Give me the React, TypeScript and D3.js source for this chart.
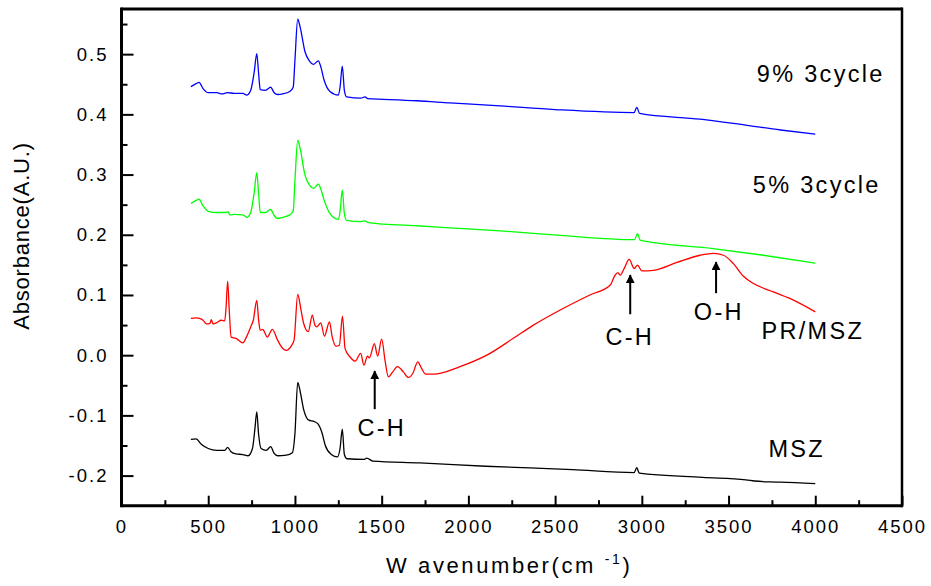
import React, { useEffect, useRef } from "react";
import * as d3 from "d3";

// [wavenumber (cm-1), absorbance]
const mszData: [number, number][] = [
  [400, -0.14], [430, -0.139], [460, -0.148], [500, -0.155], [550, -0.158], [595, -0.158],
  [612, -0.153], [630, -0.16], [660, -0.164], [700, -0.165], [730, -0.167], [755, -0.155],
  [770, -0.12], [780, -0.094], [790, -0.13], [805, -0.155], [835, -0.158], [860, -0.152],
  [880, -0.163], [900, -0.167], [950, -0.166], [985, -0.162], [1000, -0.13], [1016, -0.045],
  [1030, -0.06], [1050, -0.09], [1080, -0.108], [1110, -0.11], [1135, -0.115], [1155, -0.128],
  [1175, -0.15], [1210, -0.165], [1245, -0.169], [1260, -0.155], [1273, -0.123], [1285, -0.165],
  [1300, -0.172], [1400, -0.173], [1414, -0.171], [1450, -0.176], [1720, -0.179], [2100, -0.1845],
  [2600, -0.19], [2955, -0.195], [2971, -0.187], [2985, -0.196], [3350, -0.203], [3600, -0.207],
  [3650, -0.209], [3740, -0.2105], [3800, -0.211], [4000, -0.2135],
];

const prMszData: [number, number][] = [
  [400, 0.061], [430, 0.062], [450, 0.061], [470, 0.058], [490, 0.052], [510, 0.053],
  [518, 0.059], [528, 0.052], [550, 0.054], [575, 0.058], [595, 0.057], [603, 0.08],
  [612, 0.123], [622, 0.07], [632, 0.03], [660, 0.028], [700, 0.0205], [720, 0.03],
  [745, 0.047], [760, 0.058], [780, 0.091], [790, 0.06], [800, 0.0415], [815, 0.043],
  [825, 0.038], [840, 0.03], [870, 0.043], [900, 0.025], [930, 0.011], [950, 0.008],
  [980, 0.016], [995, 0.025], [1016, 0.1008], [1035, 0.075], [1050, 0.053], [1077, 0.039],
  [1100, 0.0665], [1115, 0.05], [1126, 0.047], [1149, 0.0537], [1170, 0.0316], [1199, 0.0554],
  [1215, 0.03], [1237, 0.015], [1256, 0.0166], [1274, 0.0648], [1289, 0.011], [1318, -0.003],
  [1347, -0.01], [1379, 0.003], [1398, -0.0166], [1418, -0.0017], [1429, -0.0044], [1458, 0.019],
  [1477, -0.0017], [1500, 0.0266], [1520, -0.01], [1539, -0.036], [1564, -0.0277], [1591, -0.019],
  [1625, -0.0277], [1654, -0.037], [1680, -0.03], [1708, -0.011], [1730, -0.022], [1754, -0.0316],
  [1798, -0.0316], [1952, -0.019], [2106, 0.0], [2259, 0.028], [2375, 0.05], [2529, 0.075],
  [2700, 0.1], [2817, 0.116], [2846, 0.133], [2862, 0.137], [2875, 0.133], [2900, 0.145],
  [2927, 0.159], [2956, 0.144], [2975, 0.1496], [3000, 0.14], [3067, 0.141], [3202, 0.154],
  [3336, 0.166], [3413, 0.169], [3471, 0.166], [3528, 0.152], [3586, 0.131], [3644, 0.119],
  [3759, 0.105], [3877, 0.091], [4000, 0.072],
];

const cycle5Data: [number, number][] = [
  [400, 0.252], [430, 0.257], [447, 0.259], [470, 0.248], [500, 0.239], [550, 0.237],
  [600, 0.237], [615, 0.238], [625, 0.233], [650, 0.234], [700, 0.233], [722, 0.229],
  [745, 0.237], [765, 0.27], [780, 0.303], [790, 0.27], [800, 0.237], [830, 0.237],
  [860, 0.242], [880, 0.232], [900, 0.227], [930, 0.229], [970, 0.233], [990, 0.24],
  [1000, 0.29], [1016, 0.357], [1030, 0.343], [1058, 0.299], [1085, 0.282], [1106, 0.277],
  [1135, 0.284], [1150, 0.275], [1168, 0.258], [1202, 0.235], [1250, 0.2255], [1260, 0.238],
  [1273, 0.274], [1285, 0.235], [1298, 0.224], [1380, 0.222], [1404, 0.223], [1420, 0.2205],
  [1510, 0.2177], [1702, 0.215], [1894, 0.2116], [2183, 0.2066], [2530, 0.199], [2958, 0.192],
  [2975, 0.202], [2990, 0.191], [3411, 0.177], [3700, 0.166], [4000, 0.153],
];

const cycle9Data: [number, number][] = [
  [400, 0.446], [430, 0.451], [447, 0.453], [470, 0.443], [500, 0.436], [550, 0.436],
  [580, 0.434], [610, 0.436], [650, 0.435], [700, 0.435], [722, 0.432], [745, 0.44],
  [765, 0.47], [780, 0.501], [790, 0.47], [800, 0.441], [830, 0.44], [860, 0.445],
  [880, 0.436], [900, 0.433], [930, 0.434], [970, 0.438], [990, 0.445], [1000, 0.49],
  [1016, 0.558], [1030, 0.545], [1058, 0.504], [1085, 0.488], [1106, 0.483], [1135, 0.489],
  [1150, 0.478], [1168, 0.457], [1202, 0.438], [1250, 0.432], [1260, 0.445], [1273, 0.48],
  [1285, 0.44], [1298, 0.429], [1380, 0.427], [1404, 0.429], [1420, 0.426], [1510, 0.425],
  [1702, 0.4226], [1894, 0.419], [2183, 0.414], [2500, 0.408], [2955, 0.403], [2971, 0.4117],
  [2987, 0.4017], [3336, 0.392], [3528, 0.385], [3800, 0.374], [4000, 0.367],
];

const seriesColors = ["#000000", "#ff0000", "#00ff00", "#0000ff"];

// label text, x (cm-1) of left edge, y (absorbance) of baseline
const labelTexts = ["9% 3cycle", "5% 3cycle", "PR/MSZ", "MSZ", "C-H", "C-H", "O-H"];
const labelX = [3663, 3640, 3690, 3730, 1360, 2790, 3300];
const labelY = [0.4542, 0.2692, 0.0263, -0.1693, -0.1346, 0.0166, 0.0582];

// arrows: x (cm-1), from y, to y (absorbance)
const arrowX = [1460, 2933, 3428];
const arrowFrom = [-0.0897, 0.068, 0.103];
const arrowTo = [-0.0266, 0.133, 0.1546];

const xTicks = d3.range(0, 4501, 500);
const yTicks = [-0.2, -0.1, 0.0, 0.1, 0.2, 0.3, 0.4, 0.5];

export default function App() {
  const ref = useRef<SVGSVGElement>(null);

  useEffect(() => {
    const width = 931;
    const height = 586;
    const font = "'Liberation Sans', Arial, sans-serif";
    const svg = d3.select(ref.current);
    svg.selectAll("*").remove();

    const x = d3.scaleLinear().domain([0, 4500]).range([121.5, 902]);
    const y = d3.scaleLinear().domain([-0.25, 0.575]).range([505.7, 9]);

    // minor ticks
    svg
      .append("g")
      .attr("transform", `translate(0,${y(-0.25)})`)
      .call(d3.axisBottom(x).tickValues(d3.range(250, 4500, 500)).tickSize(-5.5).tickFormat(() => ""))
      .call(g => g.select(".domain").remove())
      .selectAll("line")
      .attr("stroke-width", 2);
    svg
      .append("g")
      .attr("transform", `translate(${x(0)},0)`)
      .call(d3.axisLeft(y).tickValues(d3.range(-0.15, 0.56, 0.1)).tickSize(-6).tickFormat(() => ""))
      .call(g => g.select(".domain").remove())
      .selectAll("line")
      .attr("stroke-width", 2);

    // major ticks
    const xAxis = svg
      .append("g")
      .attr("transform", `translate(0,${y(-0.25)})`)
      .call(d3.axisBottom(x).tickValues(xTicks).tickSize(-10).tickPadding(14).tickFormat(d => String(d)));
    xAxis.select(".domain").remove();
    xAxis.selectAll("line").attr("stroke-width", 2);
    xAxis
      .selectAll("text")
      .attr("font-family", font)
      .attr("font-size", 18.5)
      .attr("letter-spacing", 2)
      .attr("fill", "#000");

    const yAxis = svg
      .append("g")
      .attr("transform", `translate(${x(0)},0)`)
      .call(d3.axisLeft(y).tickValues(yTicks).tickSize(-12).tickPadding(13).tickFormat(d => (+d).toFixed(1)));
    yAxis.select(".domain").remove();
    yAxis.selectAll("line").attr("stroke-width", 2);
    yAxis
      .selectAll("text")
      .attr("font-family", font)
      .attr("font-size", 18.5)
      .attr("letter-spacing", 2)
      .attr("fill", "#000");

    // frame
    const frame = svg.append("g").attr("stroke", "#000").attr("fill", "none");
    frame.append("line").attr("x1", x(0)).attr("x2", x(0)).attr("y1", y(0.575) - 1.5).attr("y2", y(-0.25) + 1.5).attr("stroke-width", 3);
    frame.append("line").attr("x1", x(0)).attr("x2", x(4500)).attr("y1", y(-0.25)).attr("y2", y(-0.25)).attr("stroke-width", 3);
    frame.append("line").attr("x1", x(0)).attr("x2", x(4500)).attr("y1", y(0.575)).attr("y2", y(0.575)).attr("stroke-width", 3);
    frame.append("line").attr("x1", x(4500)).attr("x2", x(4500)).attr("y1", y(0.575) - 1.5).attr("y2", y(-0.25) + 1.5).attr("stroke-width", 2.5);

    // spectra
    const line = d3
      .line<[number, number]>()
      .x(d => x(d[0]))
      .y(d => y(d[1]))
      .curve(d3.curveMonotoneX);

    const series = [mszData, prMszData, cycle5Data, cycle9Data];
    svg
      .append("g")
      .selectAll("path")
      .data(series)
      .join("path")
      .attr("fill", "none")
      .attr("stroke", (d, i) => seriesColors[i])
      .attr("stroke-width", 1.3)
      .attr("stroke-linejoin", "round")
      .attr("d", d => line(d));

    // annotations
    svg
      .append("defs")
      .append("marker")
      .attr("id", "arrowhead")
      .attr("viewBox", "0 0 10 10")
      .attr("refX", 9)
      .attr("refY", 5)
      .attr("markerWidth", 4.5)
      .attr("markerHeight", 4.5)
      .attr("markerUnits", "strokeWidth")
      .attr("orient", "auto")
      .append("path")
      .attr("d", "M0,0L10,5L0,10Z")
      .attr("fill", "#000");

    svg
      .append("g")
      .selectAll("line")
      .data(arrowX)
      .join("line")
      .attr("x1", d => x(d))
      .attr("x2", d => x(d))
      .attr("y1", (d, i) => y(arrowFrom[i]))
      .attr("y2", (d, i) => y(arrowTo[i]))
      .attr("stroke", "#000")
      .attr("stroke-width", 2)
      .attr("marker-end", "url(#arrowhead)");

    svg
      .append("g")
      .attr("font-family", font)
      .attr("font-size", 23.5)
      .attr("letter-spacing", 2.3)
      .selectAll("text")
      .data(labelTexts)
      .join("text")
      .attr("x", (d, i) => x(labelX[i]))
      .attr("y", (d, i) => y(labelY[i]))
      .attr("fill", "#000")
      .text(d => d);

    // axis titles
    svg
      .append("text")
      .attr("transform", `translate(29,236) rotate(-90)`)
      .attr("text-anchor", "middle")
      .attr("font-family", font)
      .attr("font-size", 22)
      .attr("letter-spacing", 0.8)
      .text("Absorbance(A.U.)");

    const xt = svg
      .append("text")
      .attr("x", 386)
      .attr("y", 573)
      .attr("font-family", font)
      .attr("font-size", 22)
      .attr("letter-spacing", 2.6);
    xt.append("tspan").text("W avenumber(cm ");
    xt.append("tspan").attr("font-size", 14).attr("dy", -9).text("-1");
    xt.append("tspan").attr("dy", 9).text(")");

    svg.attr("width", width).attr("height", height);
  }, []);

  return (
    <svg
      ref={ref}
      width={931}
      height={586}
      style={{ position: "absolute", left: 0, top: 0, background: "#fff" }}
    />
  );
}
